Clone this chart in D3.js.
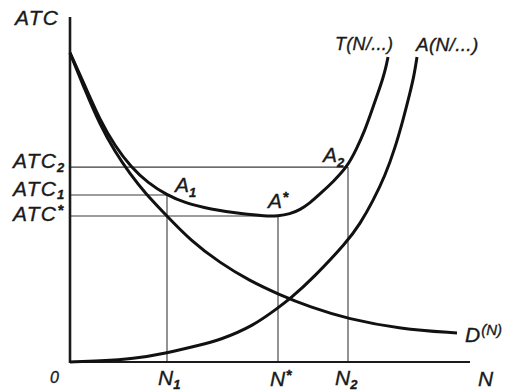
<!DOCTYPE html>
<html>
<head>
<meta charset="utf-8">
<script src="https://cdn.jsdelivr.net/npm/d3@7"></script>
<style>
  html, body { margin: 0; padding: 0; background: #fff; }
  svg { display: block; }
  text { font-family: "Liberation Sans", Arial, sans-serif; font-style: italic; fill: #1a1a1a;
         stroke: #1a1a1a; stroke-width: 0.35px; }
</style>
</head>
<body>
<svg id="chart"></svg>
<script>
// curves, in chart units (N across, ATC up)
const dCurve = [[0,89.6],[3.75,78.8],[7.5,68.7],[11.25,60.9],[15,54.5],[18.75,49],[24.25,42.3],[30,35.4],
  [37.5,28.7],[45,23.5],[52,19.7],[60,15.9],[69.5,12.5],[82.5,9.6],[96.75,8.4]];
const tCurve = [[0,89.6],[4,79.4],[7.5,70.1],[11.25,62.6],[15.25,56.5],[19.5,51.9],[24.25,48.4],[28.75,46.1],
  [35,44.3],[43.25,42.9],[48.75,42.3],[52,42.3],[55,42.9],[57.5,44.1],[60,46.1],[62.5,48.7],[65.75,52.2],
  [69.25,56.5],[71.5,61.4],[73.75,67.2],[75.5,73],[77,78],[78.25,82.3],[79,85.5],[79.5,88.4]];
const aCurve = [[0,0],[7.5,0.3],[15.75,0.9],[24.25,2.6],[32.5,4.9],[37.5,6.4],[45.75,10.4],[52,15.7],
  [55,18.3],[60.75,24.3],[69.25,34.8],[72.5,40],[75.75,46.7],[78.75,53.9],[81.25,62],[83.25,70.1],
  [85,78],[86,82.9],[86.75,88.4]];

// equilibrium points: name, N value, ATC value
const pointNames = ["1", "*", "2"];
const pointN = [24.25, 52, 69.5];
const pointATC = [48.4, 42.3, 56.5];

const width = 509;
const height = 392;

const svg = d3.select("svg#chart").attr("width", width).attr("height", height);

const x = d3.scaleLinear().domain([0, 100]).range([70, 470]);
const y = d3.scaleLinear().domain([0, 100]).range([362, 17]);

const line = d3.line()
  .x(d => x(d[0]))
  .y(d => y(d[1]))
  .curve(d3.curveBasis);

// guide lines
const guides = svg.append("g")
  .attr("stroke", "#3a3a3a")
  .attr("stroke-width", 1.1);

pointN.forEach((n, i) => {
  guides.append("line")
    .attr("x1", x(0)).attr("x2", x(n))
    .attr("y1", y(pointATC[i])).attr("y2", y(pointATC[i]));
  guides.append("line")
    .attr("x1", x(n)).attr("x2", x(n))
    .attr("y1", y(pointATC[i])).attr("y2", y(0));
});

// axes
svg.append("line")
  .attr("x1", x(0)).attr("x2", x(0))
  .attr("y1", y(0) + 1).attr("y2", y(100))
  .attr("stroke", "#1a1a1a").attr("stroke-width", 2.6);
svg.append("line")
  .attr("x1", x(0)).attr("x2", x(100))
  .attr("y1", y(0)).attr("y2", y(0))
  .attr("stroke", "#1a1a1a").attr("stroke-width", 2);

// curves
svg.append("g")
  .attr("fill", "none")
  .attr("stroke", "#111")
  .attr("stroke-width", 3)
  .selectAll("path")
  .data([dCurve, tCurve, aCurve])
  .join("path")
    .attr("d", line);

// labels
function label(px, py, main, sub, opts = {}) {
  const t = svg.append("text")
    .attr("x", px).attr("y", py)
    .attr("font-size", opts.size || 20);
  t.append("tspan")
    .attr("letter-spacing", opts.spacing || 0)
    .text(main);
  if (sub) {
    const star = sub === "*";
    t.append("tspan")
      .attr("font-size", star ? 15 : 13)
      .attr("font-weight", "bold")
      .attr("dx", star ? 1 : 0)
      .attr("dy", star ? -6 : (opts.subDy || 5))
      .attr("font-style", star ? "normal" : "italic")
      .text(sub);
  }
  return t;
}

label(15, 25, "ATC", null, {size: 21, spacing: 1.2});
label(13, 168, "ATC", pointNames[2], {size: 21, spacing: 1.2, subDy: 4});
label(13, 196, "ATC", pointNames[0], {size: 21, spacing: 1.2, subDy: 3});
label(13, 221, "ATC", pointNames[1], {size: 21, spacing: 1.2});

label(x(pointN[0]) + 8, y(pointATC[0]) - 3, "A", pointNames[0], {size: 21});
label(x(pointN[1]) - 10, y(pointATC[1]) - 8, "A", pointNames[1], {size: 21});
label(x(pointN[2]) - 25, y(pointATC[2]) - 5, "A", pointNames[2], {size: 21});

label(x(pointN[0]) - 9, 385, "N", pointNames[0], {size: 21, subDy: 4});
label(x(pointN[1]) - 8, 386, "N", pointNames[1], {size: 21});
label(x(pointN[2]) - 13, 385, "N", pointNames[2], {size: 21, subDy: 4});
label(478, 386, "N", null, {size: 21});
label(50, 383, "0", null, {size: 16});

label(335, 50, "T(N/...)", null, {size: 18, spacing: 0.3});
label(416, 51, "A(N/...)", null, {size: 19, spacing: 0.3});

const dl = label(465, 342, "D", null, {size: 21});
dl.append("tspan").attr("font-size", 15).attr("dy", -7).attr("dx", 1).text("(N)");
</script>
</body>
</html>
